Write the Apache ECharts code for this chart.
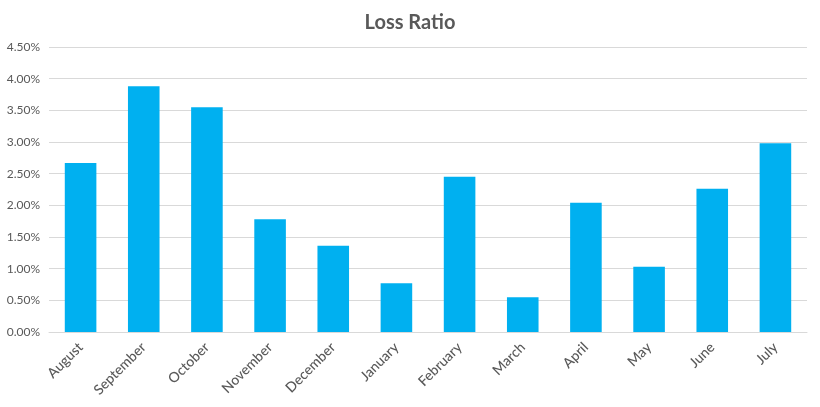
<!DOCTYPE html>
<html>
<head>
<meta charset="utf-8">
<script src="https://cdn.jsdelivr.net/npm/echarts@6/dist/echarts.min.js"></script>
<style>
html,body{margin:0;padding:0;background:#fff;}
#chart{width:820px;height:407px;}
</style>
</head>
<body>
<div id="chart"></div>
<script>
const categories = ['August','September','October','November','December','January','February','March','April','May','June','July'];
const lossRatio = [0.0267, 0.0388, 0.0355, 0.0178, 0.0136, 0.0077, 0.0245, 0.0055, 0.0204, 0.0103, 0.0226, 0.0298];
const yMin = 0, yMax = 0.045, yInterval = 0.005;

const chart = echarts.init(document.getElementById('chart'));
chart.setOption({
  backgroundColor: '#ffffff',
  animation: false,
  title: {
    text: 'Loss Ratio',
    left: 'center',
    top: 8,
    textStyle: { fontFamily: 'Lato', fontWeight: 'bold', fontSize: 20, color: '#595959' }
  },
  grid: { left: 49, right: 13, top: 47, bottom: 75, containLabel: false },
  xAxis: {
    type: 'category',
    data: categories,
    axisLine: { lineStyle: { color: '#d9d9d9', width: 1 } },
    axisTick: { show: false },
    axisLabel: { rotate: 45, fontFamily: 'Lato', fontSize: 14, fontWeight: 500, color: '#595959', margin: 13, interval: 0 }
  },
  yAxis: {
    type: 'value',
    min: yMin, max: yMax, interval: yInterval,
    axisLine: { show: false },
    axisTick: { show: false },
    splitLine: { lineStyle: { color: '#d9d9d9', width: 1 } },
    axisLabel: {
      fontFamily: 'Lato', fontSize: 12, color: '#595959', margin: 9,
      formatter: v => (v * 100).toFixed(2) + '%'
    }
  },
  series: [{
    type: 'bar',
    data: lossRatio,
    barWidth: '50%',
    itemStyle: { color: '#00b0f0' }
  }]
});
</script>
</body>
</html>
